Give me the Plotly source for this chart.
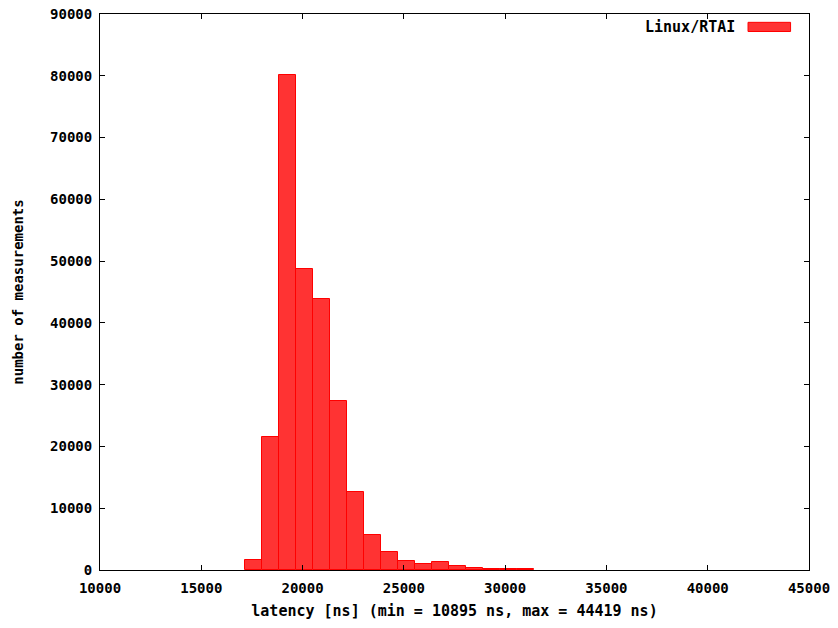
import plotly.graph_objects as go

# Histogram bins (bin centres in ns) and counts
bin_centers = [17600, 18438, 19276, 20114, 20953, 21791, 22629, 23467, 24305,
               25143, 25981, 26819, 27657, 28496, 29334, 30172, 31010]
counts = [1700, 21500, 80100, 48700, 43900, 27400, 12700, 5700, 2900,
          1500, 1000, 1250, 650, 250, 230, 200, 180]
bin_width = 838
series_name = "Linux/RTAI"
x_ticks = [10000, 15000, 20000, 25000, 30000, 35000, 40000, 45000]
y_ticks = [0, 10000, 20000, 30000, 40000, 50000, 60000, 70000, 80000, 90000]

FONT = "DejaVu Sans Mono"

fig = go.Figure()
fig.add_trace(go.Bar(
    x=bin_centers, y=counts, width=[bin_width] * len(bin_centers),
    name=series_name,
    marker=dict(color="#ff3333", line=dict(color="#ff0000", width=1)),
    showlegend=False,
))

axis_common = dict(
    showgrid=False, zeroline=False, showline=True, linecolor="black", linewidth=1,
    mirror="ticks", ticks="inside", ticklen=5, tickcolor="black", tickwidth=1,
    tickfont=dict(family=FONT, size=14, color="black", weight="bold"),
    ticklabeloverflow="allow", automargin=False,
)

fig.update_xaxes(range=[10000, 45000], tickmode="array", tickvals=x_ticks,
                 ticktext=[str(v) for v in x_ticks], ticklabelstandoff=5,
                 title=dict(text="latency [ns] (min = 10895 ns, max = 44419 ns)",
                            font=dict(family=FONT, size=15, color="black", weight="bold"),
                            standoff=10),
                 **axis_common)
fig.update_yaxes(range=[0, 90000], tickmode="array", tickvals=y_ticks,
                 ticktext=[str(v) for v in y_ticks], ticklabelstandoff=4,
                 title=dict(text="number of measurements",
                            font=dict(family=FONT, size=14, color="black", weight="bold"),
                            standoff=23),
                 **axis_common)

# gnuplot-style key: label plus wide sample box
fig.add_annotation(x=0.899, y=0.9775, xref="paper", yref="paper", text=series_name,
                   showarrow=False, xanchor="right", yanchor="middle",
                   font=dict(family=FONT, size=15, color="black", weight="bold"))
fig.add_shape(type="rect", xref="paper", yref="paper",
              x0=0.914, x1=0.974, y0=0.9685, y1=0.985,
              fillcolor="#ff3333", line=dict(color="#ff0000", width=1))

fig.update_layout(
    width=838, height=628,
    margin=dict(l=100, r=29, t=14, b=58),
    paper_bgcolor="white", plot_bgcolor="white",
    bargap=0,
    font=dict(family=FONT, size=14, color="black"),
)

# remove the default 8px page margin so the figure fills the window exactly
fig.write_html(
    "out.html",
    config={"displayModeBar": False},
    post_script="document.body.style.margin='0';document.body.style.overflow='hidden';",
)
